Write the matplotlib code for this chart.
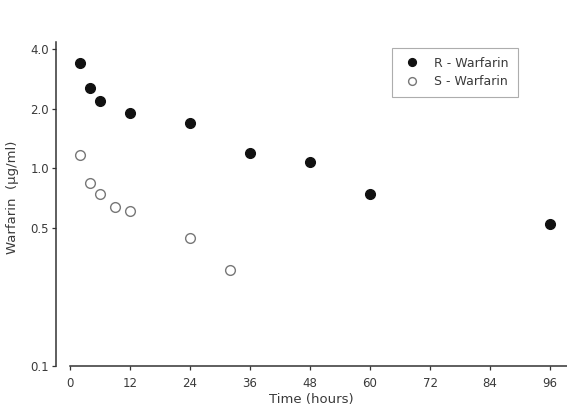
import numpy as np
import matplotlib
matplotlib.use('Agg')
import matplotlib.pyplot as plt
from matplotlib.ticker import FixedLocator, NullLocator

# Data #
r_time = [2, 4, 6, 12, 24, 36, 48, 60, 96]
r_conc = [3.4, 2.56, 2.18, 1.91, 1.70, 1.20, 1.07, 0.74, 0.52]
s_time = [2, 4, 6, 9, 12, 24, 32]
s_conc = [1.17, 0.845, 0.74, 0.64, 0.607, 0.446, 0.305]

x_ticks = [0, 12, 24, 36, 48, 60, 72, 84, 96]
y_ticks = [0.1, 0.5, 1.0, 2.0, 4.0]
y_tick_labels = ['0.1', '0.5', '1.0', '2.0', '4.0']

txt = '#3a3a3a'
plt.rcParams['font.family'] = ['DejaVu Sans']

fig = plt.figure(figsize=(5.67, 4.08), dpi=100)
ax = fig.add_axes([56/567, 1-366/408, 1-56/567, (366-42)/408])

ax.plot(r_time, r_conc, 'o', ms=7, mfc='#111111', mec='#111111', label='R - Warfarin', clip_on=False)
ax.plot(s_time, s_conc, 'o', ms=7, mfc='white', mec='#777777', mew=1.0, label='S - Warfarin', clip_on=False)

ax.set_yscale('log')
ax.set_ylim(0.1, 4.35)
ax.set_xlim(-2.8, 99.4)

ax.yaxis.set_major_locator(FixedLocator(y_ticks))
ax.yaxis.set_minor_locator(NullLocator())
ax.set_yticklabels(y_tick_labels)
ax.set_xticks(x_ticks)

for s in ['top', 'right']:
    ax.spines[s].set_visible(False)
for s in ['left', 'bottom']:
    ax.spines[s].set_color('#333333')
    ax.spines[s].set_linewidth(1.1)
ax.spines['bottom'].set_bounds(0, 99.4) # x axis starts at t=0, detached from y axis

ax.tick_params(axis='both', direction='out', length=3, width=0.9, color='#333333',
               labelcolor=txt, labelsize=8.5)
ax.tick_params(axis='x', pad=5)
ax.tick_params(axis='y', pad=2)

ax.set_xlabel('Time (hours)', color=txt, fontsize=9.5, labelpad=2)
ax.set_ylabel('Warfarin  (\u03bcg/ml)', color=txt, fontsize=9.5, labelpad=4)
ax.yaxis.set_label_coords(-0.072, 0.52)

# Legend #
leg = fig.legend(loc='upper left', bbox_to_anchor=(392/567, 1-48/408), frameon=True,
                 fontsize=9, fancybox=False, borderpad=0.7, handletextpad=0.9,
                 labelspacing=0.45, borderaxespad=0, handlelength=1.8, markerscale=0.8)
leg.get_frame().set_edgecolor('#999999')
leg.get_frame().set_linewidth(0.8)
for t in leg.get_texts():
    t.set_color(txt)

fig.savefig('out.png', dpi=100)
